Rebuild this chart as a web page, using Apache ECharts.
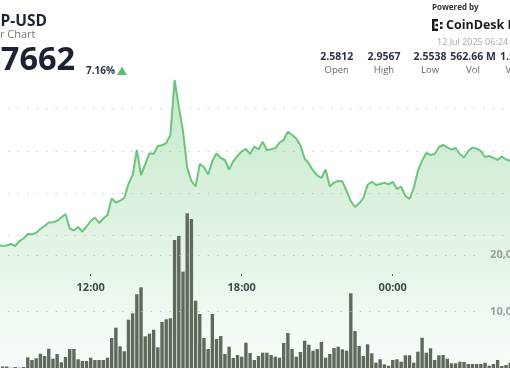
<!DOCTYPE html>
<html><head><meta charset="utf-8">
<script src="https://cdn.jsdelivr.net/npm/echarts@6/dist/echarts.min.js"></script>
<style>html,body{margin:0;padding:0;background:#fff;}#c{width:510px;height:369px;}</style>
</head><body><div id="c"></div>
<script>
// ---- data ----
const priceStartHour = 8 + 20 / 60;   // 08:20, 10-minute samples
const volumeStartHour = 8.5;          // 08:30, 10-minute bars
const stepHour = 10 / 60;
const price = [
  2.5765, 2.5762, 2.5769, 2.5805, 2.5758, 2.5875, 2.5934, 2.6040, 2.6033, 2.6071,
  2.6158, 2.6229, 2.6311, 2.6316, 2.6353, 2.6429, 2.6511, 2.6170, 2.6123, 2.6205,
  2.6099, 2.6217, 2.6346, 2.6429, 2.6299, 2.6405, 2.6488, 2.6876, 2.6777, 2.6824,
  2.6888, 2.7218, 2.7429, 2.8018, 2.7429, 2.7688, 2.7940, 2.7924, 2.8112, 2.8129,
  2.8183, 2.8371, 2.9666, 2.9031, 2.8465, 2.7606, 2.7288, 2.7159, 2.7688, 2.7618,
  2.7441, 2.7759, 2.7936, 2.7830, 2.7783, 2.7559, 2.7759, 2.7882, 2.7983, 2.8046,
  2.7924, 2.8101, 2.8030, 2.8214, 2.8018, 2.8035, 2.8058, 2.8190, 2.8258, 2.8449,
  2.8371, 2.8289, 2.8124, 2.7818, 2.7700, 2.7535, 2.7422, 2.7359, 2.7559, 2.7159,
  2.7251, 2.7288, 2.7281, 2.7053, 2.6817, 2.6676, 2.6763, 2.6888, 2.7194, 2.7269,
  2.7194, 2.7218, 2.7246, 2.7211, 2.7269, 2.7100, 2.7159, 2.6935, 2.6864, 2.7123,
  2.7524, 2.7771, 2.7947, 2.7900, 2.7924, 2.8089, 2.8136, 2.8082, 2.8028, 2.8065,
  2.7924, 2.7842, 2.7995, 2.8079, 2.8051, 2.7995, 2.7853, 2.7877, 2.7834, 2.7783,
  2.7865, 2.7794, 2.7766
];
const volume = [
  270, 270, 50, 180, 50, 180, 1890, 1420, 1720, 2530,
  2120, 3420, 1650, 2480, 1010, 1950, 3360, 3360, 1540, 1240,
  1240, 1820, 1420, 1420, 1420, 1820, 5310, 7130, 3840, 2960,
  8550, 9680, 13050, 14280, 5610, 6070, 6780, 3660, 8140, 8620,
  8800, 22660, 23360, 17050, 27380, 26370, 11910, 9560, 5310, 3360,
  9560, 5130, 5660, 2480, 3770, 1770, 2300, 2000, 4480, 2660,
  1420, 2120, 2710, 2710, 2300, 2000, 1820, 4430, 6200, 3360,
  2000, 2830, 4830, 4120, 3060, 3360, 4600, 1820, 2480, 3540,
  3770, 3310, 3060, 13220, 6550, 3890, 2120, 4200, 2600, 940,
  1540, 650, 410, 1420, 1540, 1120, 2250, 2250, 940, 2890,
  5360, 2710, 3490, 1420, 2250, 2300, 1650, 830, 830, 1120,
  1060, 710, 710, 710, 710, 940, 410, 710, 1420, 350,
  530, 940
];
const timeTicks = [12, 18, 24];
const priceGridValues = [2.6, 2.7, 2.8, 2.9];
const volumeGridValues = [10000, 20000];
const symbolName = 'XRP-USD';
const subTitle = '24 Hour Chart';
const lastPrice = '2.7662';
const changePct = '7.16%';
const statValues = ['2.5812', '2.9567', '2.5538', '562.66 M', '1.52 B'];
const statLabels = ['Open', 'High', 'Low', 'Vol', 'Vol (USD)'];
const dateText = '12 Jul 2025 06:24';

// ---- build ----
const priceData = price.map((v, i) => [priceStartHour + i * stepHour, v]);
const volumeData = volume.map((v, i) => [volumeStartHour + i * stepHour, v]);
const FONT = '"Open Sans", "Noto Sans", sans-serif';
const dot = { color: '#bdbdbd', width: 1.2, type: [1.2, 8.3] };
const xMin = 8.3965, xMax = 28.6587;
const gridStartX = 8.72, volLineEndX = 27.55;

function txt(text, x, y, font, fill, align) {
  return { type: 'text', x: x, y: y, silent: true,
    style: { text: text, font: font, fill: fill, align: align || 'left', verticalAlign: 'middle',
             textAlign: align || 'left', textVerticalAlign: 'middle' } };
}
const statCenters = [336.7, 384, 430, 473];
const graphics = [
  txt(symbolName, -20, 21.5, 'bold 15.5px ' + FONT, '#1b2333'),
  txt(subTitle, -37, 35, '11px ' + FONT, '#777'),
  txt(lastPrice, -27, 61, 'bold 32.5px ' + FONT, '#1b2333'),
  txt(changePct, 86, 71, 'bold 10px ' + FONT, '#2a3342'),
  { type: 'polygon', silent: true, shape: { points: [[117, 75], [122, 66.5], [127, 75]] }, style: { fill: '#5cbf6e' } },
  txt('Powered by', 432, 8, 'bold 8px ' + FONT, '#333'),
  { type: 'group', silent: true, children: [
    { type: 'rect', shape: { x: 432, y: 19, width: 2.5, height: 12 }, style: { fill: '#1a1a1a' } },
    { type: 'rect', shape: { x: 432, y: 19, width: 6, height: 2.5 }, style: { fill: '#1a1a1a' } },
    { type: 'rect', shape: { x: 432, y: 28.5, width: 6, height: 2.5 }, style: { fill: '#1a1a1a' } },
    { type: 'rect', shape: { x: 435.5, y: 23.8, width: 2.5, height: 2.5 }, style: { fill: '#1a1a1a' } },
    { type: 'rect', shape: { x: 440, y: 22, width: 2.5, height: 2.5 }, style: { fill: '#1a1a1a' } },
    { type: 'rect', shape: { x: 440, y: 26.5, width: 2.5, height: 2.5 }, style: { fill: '#1a1a1a' } }
  ] },
  txt('CoinDesk Data', 446, 25, 'bold 12.5px ' + FONT, '#1a1a1a'),
  txt(dateText, 437, 42.5, '9px ' + FONT, '#a8a8a8')
];
statValues.forEach((v, i) => {
  if (i < 4) graphics.push(txt(v, statCenters[i], 57, 'bold 10.5px ' + FONT, '#2d3442', 'center'));
  else graphics.push(txt(v, 500, 57, 'bold 10.5px ' + FONT, '#2d3442'));
});
statLabels.forEach((v, i) => {
  if (i < 4) graphics.push(txt(v, statCenters[i], 70, '9.5px ' + FONT, '#666', 'center'));
  else graphics.push(txt(v, 505.5, 70, '9.5px ' + FONT, '#666'));
});

const chart = echarts.init(document.getElementById('c'), null, { renderer: 'canvas' });
chart.setOption({
  animation: false,
  backgroundColor: '#fff',
  grid: { left: 0, right: 0, top: 20, bottom: 1 },
  xAxis: {
    type: 'value', min: xMin, max: xMax, offset: -92,
    axisLine: { show: false },
    axisTick: { show: true, inside: true, length: 2, customValues: timeTicks, lineStyle: { color: '#555', width: 1 } },
    axisLabel: { margin: 6, color: '#333a45', fontWeight: 'bold', fontSize: 11, fontFamily: FONT,
      customValues: timeTicks,
      formatter: v => String(Math.round(v) % 24).padStart(2, '0') + ':00' },
    splitLine: { show: false }
  },
  yAxis: [
    { type: 'value', min: 2.28851, max: 3.10791, show: false, splitLine: { show: false } },
    { type: 'value', min: 0, max: 61593, show: false, splitLine: { show: false } }
  ],
  series: [
    {
      type: 'line', yAxisIndex: 0, data: priceData, symbol: 'none', z: 2,
      lineStyle: { color: '#6cc57c', width: 2 },
      areaStyle: { origin: 'start', color: new echarts.graphic.LinearGradient(0, 0, 0, 1, [
        { offset: 0, color: 'rgba(104,196,120,0.55)' },
        { offset: 1, color: 'rgba(104,196,120,0.06)' }
      ]) },
      markLine: { silent: true, symbol: ['none', 'none'], label: { show: false },
        lineStyle: dot,
        data: priceGridValues.map(v => [{ coord: [gridStartX, v] }, { coord: [xMax, v] }]) }
    },
    {
      type: 'bar', yAxisIndex: 1, data: volumeData, barWidth: 3.4, z: 3,
      itemStyle: { color: '#5f695c' },
      markLine: { silent: true, symbol: ['none', 'none'],
        lineStyle: dot,
        label: { show: true, position: 'end', distance: 8, color: '#9d9d9d', fontWeight: 'bold',
          fontSize: 11, fontFamily: FONT, formatter: p => p.value.toLocaleString('en-US') },
        data: volumeGridValues.map(v => [{ coord: [gridStartX, v], value: v }, { coord: [volLineEndX, v], value: v }]) }
    }
  ],
  graphic: graphics
});
</script></body></html>
